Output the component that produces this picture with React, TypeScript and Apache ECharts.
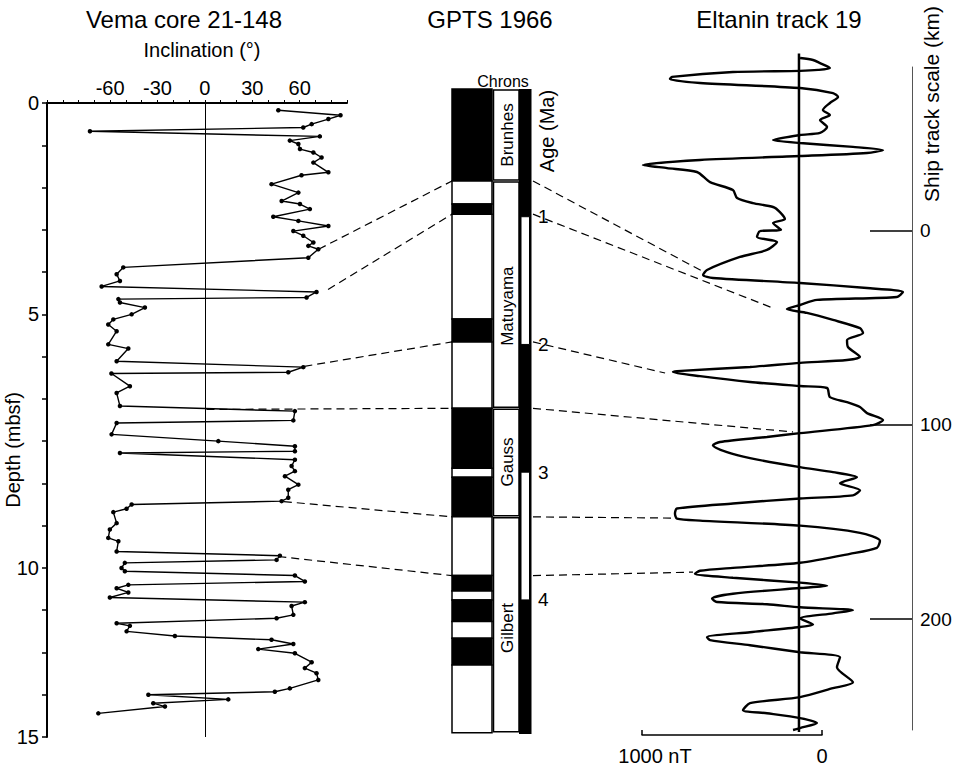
import React, { useEffect, useRef } from 'react';
import * as echarts from 'echarts';

const FONT = '"Liberation Sans", Arial, Helvetica, sans-serif';

// ---------- Vema core 21-148 (inclination vs depth) ----------
const INCL_TICK_LABELS = [-60, -30, 0, 30, 60];
const DEPTH_TICK_POS = [0, 5, 11, 15];
const DEPTH_TICK_TEXT = ['0', '5', '10', '15'];
const VEMA_INCL = [
  46.5, 85.9, 78.2, 67.6, 62.3, -72.8, 72.8, 53.8, 59.2, 60.2, 68.7, 73.9, 68.7, 78.2, 61.2, 42.2,
  59.2, 48.6, 60.2, 66.5, 43.3, 59.2, 78.2, 56.0, 62.3, 68.7, 65.5, 71.8, 65.5, -51.7, -55.9, -53.8,
  -65.4, 70.7, 64.4, -54.8, -53.8, -38.0, -46.4, -58.0, -61.2, -55.9, -61.2, -48.5, -55.9, 62.3, 52.8,
  -59.2, -47.5, -55.9, -53.8, 57.0, 56.0, -55.9, -59.1, 8.5, 57.0, 57.0, -53.8, 57.0, 54.9, 57.0, 50.7,
  59.2, 52.8, 52.8, 48.6, -46.4, -49.6, -58.0, -55.9, -60.2, -61.2, -54.8, -55.9, 47.5, 45.4, -50.7,
  -52.8, -50.7, 57.0, 63.3, -48.5, -55.9, -48.5, -60.2, 63.3, 54.9, 56.0, 45.4, -55.9, -47.5, -49.6,
  -19.0, 42.2, 56.0, 33.8, 57.0, 67.6, 63.3, 70.7, 71.8, 53.8, 44.3, -35.8, 14.8, -32.7, -25.3, -67.5,
];
const VEMA_DEPTH = [
  0.17, 0.29, 0.38, 0.5, 0.58, 0.67, 0.79, 0.89, 0.97, 1.09, 1.17, 1.29, 1.41, 1.64, 1.71, 1.92,
  2.12, 2.32, 2.39, 2.51, 2.69, 2.79, 2.91, 3.03, 3.14, 3.3, 3.38, 3.46, 3.66, 3.89, 4.05, 4.21,
  4.34, 4.47, 4.6, 4.64, 4.72, 4.84, 5.0, 5.12, 5.24, 5.4, 5.71, 5.81, 6.11, 6.25, 6.37,
  6.4, 6.7, 6.86, 7.17, 7.29, 7.51, 7.57, 7.84, 8.0, 8.12, 8.24, 8.28, 8.44, 8.59, 8.71, 8.83,
  9.03, 9.15, 9.34, 9.42, 9.5, 9.6, 9.68, 9.94, 10.09, 10.29, 10.37, 10.61, 10.71, 10.81, 10.88,
  11.0, 11.08, 11.18, 11.32, 11.4, 11.48, 11.58, 11.7, 11.81, 11.9, 12.11, 12.19, 12.31, 12.37, 12.5,
  12.61, 12.7, 12.8, 12.92, 13.02, 13.23, 13.37, 13.49, 13.65, 13.85, 13.93, 14.0, 14.11, 14.2, 14.28, 14.44,
];

// ---------- GPTS 1966 ----------
const POLARITY_START = [0, 0.72, 0.9, 0.98, 1.8, 1.98, 2.5, 2.97, 3.04, 3.35, 3.81, 3.93, 4.0, 4.17, 4.3, 4.51];
const POLARITY_END = [0.72, 0.9, 0.98, 1.8, 1.98, 2.5, 2.97, 3.04, 3.35, 3.81, 3.93, 4.0, 4.17, 4.3, 4.51, 5.04];
const POLARITY_NORMAL = [1, 0, 1, 0, 1, 0, 1, 0, 1, 0, 1, 0, 1, 0, 1, 0];
const CHRON_NAMES = ['Brunhes', 'Matuyama', 'Gauss', 'Gilbert'];
const CHRON_START = [0, 0.72, 2.5, 3.35];
const CHRON_END = [0.72, 2.5, 3.35, 5.04];
const CHRON_LABEL_AGE = [0.36, 1.7, 2.92, 4.22];
const AGE_LABELS = [1, 2, 3, 4];
const AGE_COL_START = [0, 1, 3];
const AGE_COL_END = [5.05, 2, 4];
const AGE_COL_BLACK = [1, 0, 0];

// ---------- Eltanin track 19 ----------
const ELT_NT = [
  6, 78, 117, 172, 106, 6, -367, -706, -717, -550, 6, 189, 217, 172, 133, 172, 117, 156, 117, 6, -144, 6,
  300, 467, 378, 6, -550, -867, -733, -567, -494, -367, -344, -256, -144, -106, -78, -144, -100, -217, -233,
  -122, -178, -328, -511, -533, -478, 6, 378, 578, 544, 100, 6, -67, 44, 189, 339, 356, 267, 272, 339, 267,
  6, -272, -678, -700, -550, -272, 6, 156, 172, 267, 339, 378, 467, 411, 6, -178, -439, -478, -400, -272,
  6, 189, 322, 228, 339, 300, 6, -367, -678, -689, -678, -550, 6, 339, 450, 433, 283, 6, -367, -550, -578,
  -367, 6, 156, 6, -367, -483, -456, -178, 6, 300, 189, 6, 78, 6, -272, -511, -494, -272, 6, 228, 211, 300,
  189, 6, -272, -311, -178, 6, 100, 6, -33,
];
const ELT_KM = [
  -88.6, -87.6, -86.0, -83.5, -82.5, -82.0, -81.4, -78.9, -77.8, -75.8, -73.2, -70.6, -68.6, -65.5, -61.9,
  -59.3, -56.7, -53.1, -50.1, -49.0, -46.4, -44.9, -42.9, -41.3, -39.8, -38.2, -36.2, -33.6, -32.0, -30.0,
  -24.8, -20.7, -16.6, -14.0, -12.0, -9.4, -5.8, -3.8, -0.2, 0.4, 3.4, 6.0, 10.1, 13.7, 20.4, 23.0, 24.5,
  27.1, 29.7, 31.7, 34.3, 35.8, 38.4, 40.5, 42.5, 46.1, 50.3, 52.8, 56.4, 60.0, 65.1, 66.7, 68.2, 70.3,
  72.4, 72.9, 75.0, 78.0, 80.1, 81.1, 85.8, 88.4, 90.9, 94.0, 97.6, 100.2, 104.3, 106.3, 108.9, 110.5,
  114.1, 117.2, 121.8, 124.4, 127.0, 130.1, 133.7, 136.3, 137.9, 140.5, 143.1, 145.7, 148.3, 149.3, 151.9,
  155.6, 159.7, 163.3, 166.4, 171.0, 173.6, 175.1, 176.7, 178.7, 181.2, 182.8, 184.0, 186.9, 189.4, 191.2,
  192.3, 193.9, 195.4, 197.0, 199.6, 202.7, 204.0, 206.7, 209.2, 210.8, 213.4, 217.0, 219.6, 224.7, 232.5,
  235.5, 240.1, 243.2, 246.8, 248.4, 250.9, 253.4, 256.0, 257.0,
];
const BASELINE_KM = [-91, 258];
const KM_TICKS = [0, 100, 200];
const SCALE_BAR_NT = [1000, 0];

// ---------- Tie lines ----------
const TIE_VEMA_INCL = [72, 78, 63, 1, 50, 46.5];
const TIE_VEMA_DEPTH = [3.46, 4.41, 6.23, 7.25, 9.43, 10.73];
const TIE_AGES = [0.72, 0.98, 1.98, 2.5, 3.35, 3.81];
const TIE_ELT_NT = [-539, -144, -744, -33, -706, -589];
const TIE_ELT_KM = [20.9, 40.0, 73.4, 103.7, 148.0, 175.8];

// layout of GPTS columns (x units of the GPTS grid)
const POL_X = [0, 40];
const CHRON_X = [41.5, 67];
const AGE_X = [67, 79.5];
const AGE_WHITE_X = [69, 77.5];
const TIE_LEFT_X = 0;
const TIE_RIGHT_X = 81;

function buildOption(): any {
  const vemaData = VEMA_INCL.map((v, i) => [v, VEMA_DEPTH[i]]);
  const eltData = ELT_NT.map((v, i) => [v, ELT_KM[i]]);
  const polData = POLARITY_START.map((s, i) => [s, POLARITY_END[i], POLARITY_NORMAL[i]]);
  const chronData = CHRON_START.map((s, i) => [s, CHRON_END[i], i, CHRON_LABEL_AGE[i]]);
  const ageColData = AGE_COL_START.map((s, i) => [s, AGE_COL_END[i], AGE_COL_BLACK[i]]);

  const axisLabelBase = { color: '#000', fontFamily: FONT };

  return {
    animation: false,
    backgroundColor: '#fff',
    textStyle: { fontFamily: FONT },
    grid: [
      { left: 47, top: 103, width: 300, height: 634, containLabel: false, outerBoundsMode: 'none' },
      { left: 452, top: 89, width: 80, height: 645, containLabel: false, outerBoundsMode: 'none' },
      { left: 637, top: 67, width: 275, height: 663, containLabel: false, outerBoundsMode: 'none' },
      { left: 642, top: 715, width: 180, height: 20, containLabel: false, outerBoundsMode: 'none' },
    ],
    xAxis: [
      {
        gridIndex: 0, type: 'value', position: 'top', min: -100, max: 90, interval: 10,
        axisLine: { show: true, onZero: false, lineStyle: { color: '#000', width: 2 } },
        axisTick: { show: true, inside: false, length: 3, lineStyle: { color: '#000', width: 1 } },
        axisLabel: {
          ...axisLabelBase, fontSize: 20, margin: 5,
          formatter: (v: number) => (INCL_TICK_LABELS.indexOf(v) >= 0 ? String(v) : ''),
        },
        splitLine: { show: false },
      },
      { gridIndex: 1, type: 'value', min: 0, max: 80, show: false },
      { gridIndex: 2, type: 'value', min: -900, max: 628, show: false },
      {
        gridIndex: 3, type: 'value', position: 'bottom', min: 0, max: 1000, interval: 1000, inverse: true,
        axisLine: { show: true, onZero: false, lineStyle: { color: '#000', width: 1.5 } },
        axisTick: { show: true, inside: true, length: 5, lineStyle: { color: '#000', width: 1.5 } },
        axisLabel: {
          ...axisLabelBase, fontSize: 20, margin: 11,
          formatter: (v: number) => (v === SCALE_BAR_NT[0] ? '{a|1000 nT}' : '0'),
          rich: { a: { fontSize: 20, fontFamily: FONT, color: '#000', padding: [0, 0, 0, 26] } },
        },
        splitLine: { show: false },
      },
    ],
    yAxis: [
      {
        gridIndex: 0, type: 'value', inverse: true, min: 0, max: 15, interval: 1,
        axisLine: { show: true, onZero: false, lineStyle: { color: '#000', width: 2 } },
        axisTick: { show: true, inside: false, length: 5, lineStyle: { color: '#000', width: 1.5 } },
        axisLabel: {
          ...axisLabelBase, fontSize: 20, margin: 8,
          formatter: (v: number) => {
            const k = DEPTH_TICK_POS.indexOf(v);
            return k >= 0 ? DEPTH_TICK_TEXT[k] : '';
          },
        },
        splitLine: { show: false },
      },
      {
        gridIndex: 1, type: 'value', inverse: true, min: 0, max: 5.05, interval: 1, position: 'right',
        axisLine: { show: false }, axisTick: { show: false }, splitLine: { show: false },
        axisLabel: {
          ...axisLabelBase, fontSize: 19, margin: 6,
          formatter: (v: number) => (AGE_LABELS.indexOf(v) >= 0 ? String(v) : ''),
        },
      },
      {
        gridIndex: 2, type: 'value', inverse: true, min: -84, max: 257, position: 'right',
        axisLine: { show: true, onZero: false, lineStyle: { color: '#555', width: 1 } },
        axisTick: { show: true, inside: true, length: 42, customValues: KM_TICKS, lineStyle: { color: '#000', width: 1.5 } },
        axisLabel: { ...axisLabelBase, fontSize: 19, margin: 8, customValues: KM_TICKS },
        splitLine: { show: false },
      },
      { gridIndex: 3, type: 'value', min: 0, max: 1, show: false },
    ],
    series: [
      {
        type: 'line', xAxisIndex: 0, yAxisIndex: 0, data: vemaData,
        symbol: 'circle', symbolSize: 4.5, showSymbol: true,
        lineStyle: { color: '#000', width: 1.4 }, itemStyle: { color: '#000' },
        markLine: {
          silent: true, symbol: ['none', 'none'], label: { show: false },
          lineStyle: { color: '#000', width: 1, type: 'solid' },
          data: [{ xAxis: 0 }],
        },
        z: 3,
      },
      {
        type: 'custom', xAxisIndex: 1, yAxisIndex: 1, data: polData, clip: false,
        renderItem: (_p: any, api: any) => {
          const a = api.coord([POL_X[0], api.value(0)]);
          const b = api.coord([POL_X[1], api.value(1)]);
          return {
            type: 'rect',
            shape: { x: a[0], y: a[1], width: b[0] - a[0], height: b[1] - a[1] },
            style: { fill: api.value(2) ? '#000' : '#fff', stroke: '#000', lineWidth: 1.5 },
          };
        },
      },
      {
        type: 'custom', xAxisIndex: 1, yAxisIndex: 1, data: ageColData, clip: false,
        renderItem: (_p: any, api: any) => {
          const black = api.value(2);
          const xs = black ? AGE_X : AGE_WHITE_X;
          const a = api.coord([xs[0], api.value(0)]);
          const b = api.coord([xs[1], api.value(1)]);
          return {
            type: 'rect',
            shape: { x: a[0], y: a[1], width: b[0] - a[0], height: b[1] - a[1] },
            style: { fill: black ? '#000' : '#fff', stroke: '#000', lineWidth: black ? 0 : 1 },
          };
        },
      },
      {
        type: 'custom', xAxisIndex: 1, yAxisIndex: 1, data: chronData, clip: false,
        renderItem: (_p: any, api: any) => {
          const a = api.coord([CHRON_X[0], api.value(0)]);
          const b = api.coord([CHRON_X[1], api.value(1)]);
          const c = api.coord([(CHRON_X[0] + CHRON_X[1]) / 2, api.value(3)]);
          return {
            type: 'group',
            children: [
              {
                type: 'rect',
                shape: { x: a[0], y: a[1] + 1, width: b[0] - a[0], height: b[1] - a[1] - 2 },
                style: { fill: '#fff', stroke: '#000', lineWidth: 1.5 },
              },
              {
                type: 'text', x: c[0] + 1, y: c[1], rotation: Math.PI / 2,
                style: {
                  text: CHRON_NAMES[api.value(2)], fill: '#000', font: `17px ${FONT}`,
                  textAlign: 'center', textVerticalAlign: 'middle',
                },
              },
            ],
          };
        },
      },
      {
        type: 'line', xAxisIndex: 2, yAxisIndex: 2,
        data: BASELINE_KM.map((k) => [0, k]), symbol: 'none', clip: false,
        lineStyle: { color: '#000', width: 2.5 }, z: 2,
      },
      {
        type: 'line', xAxisIndex: 2, yAxisIndex: 2, data: eltData, symbol: 'none', clip: false,
        smooth: 0.25, lineStyle: { color: '#000', width: 2.4 }, z: 3,
      },
      { type: 'line', xAxisIndex: 3, yAxisIndex: 3, data: [], symbol: 'none' },
    ],
  };
}

function textEl(text: string, x: number, y: number, size: number, rotation = 0): any {
  return {
    type: 'text', x, y, rotation, silent: true,
    style: { text, fill: '#000', font: `${size}px ${FONT}`, textAlign: 'center', textVerticalAlign: 'middle' },
  };
}

export default function App() {
  const ref = useRef<HTMLDivElement>(null);
  useEffect(() => {
    document.body.style.margin = '0';
    const chart = echarts.init(ref.current as HTMLDivElement, null, { renderer: 'svg' });
    chart.setOption(buildOption());

    const ties: any[] = [];
    TIE_AGES.forEach((age, i) => {
      const p1 = chart.convertToPixel({ gridIndex: 0 } as any, [TIE_VEMA_INCL[i], TIE_VEMA_DEPTH[i]]) as number[];
      const p2 = chart.convertToPixel({ gridIndex: 1 } as any, [TIE_LEFT_X, age]) as number[];
      const p3 = chart.convertToPixel({ gridIndex: 1 } as any, [TIE_RIGHT_X, age]) as number[];
      const p4 = chart.convertToPixel({ gridIndex: 2 } as any, [TIE_ELT_NT[i], TIE_ELT_KM[i]]) as number[];
      const style = { stroke: '#000', lineWidth: 1.2, lineDash: [8, 5], fill: null };
      ties.push({ type: 'line', silent: true, shape: { x1: p1[0], y1: p1[1], x2: p2[0], y2: p2[1] }, style });
      ties.push({ type: 'line', silent: true, shape: { x1: p3[0], y1: p3[1], x2: p4[0], y2: p4[1] }, style });
    });

    chart.setOption({
      graphic: [
        textEl('Vema core 21-148', 184, 19, 24),
        textEl('Inclination (°)', 202, 50, 20),
        textEl('GPTS 1966', 490, 19, 24),
        textEl('Eltanin track 19', 779, 19, 24),
        textEl('Depth (mbsf)', 13, 450, 20, Math.PI / 2),
        textEl('Chrons', 503, 81, 16),
        textEl('Age (Ma)', 547, 131, 20, Math.PI / 2),
        textEl('Ship track scale (km)', 931, 104, 21, Math.PI / 2),
        ...ties,
      ],
    });
    return () => chart.dispose();
  }, []);
  return (
    <div
      ref={ref}
      style={{ position: 'absolute', left: 0, top: 0, width: 959, height: 769, background: '#fff' }}
    />
  );
}
